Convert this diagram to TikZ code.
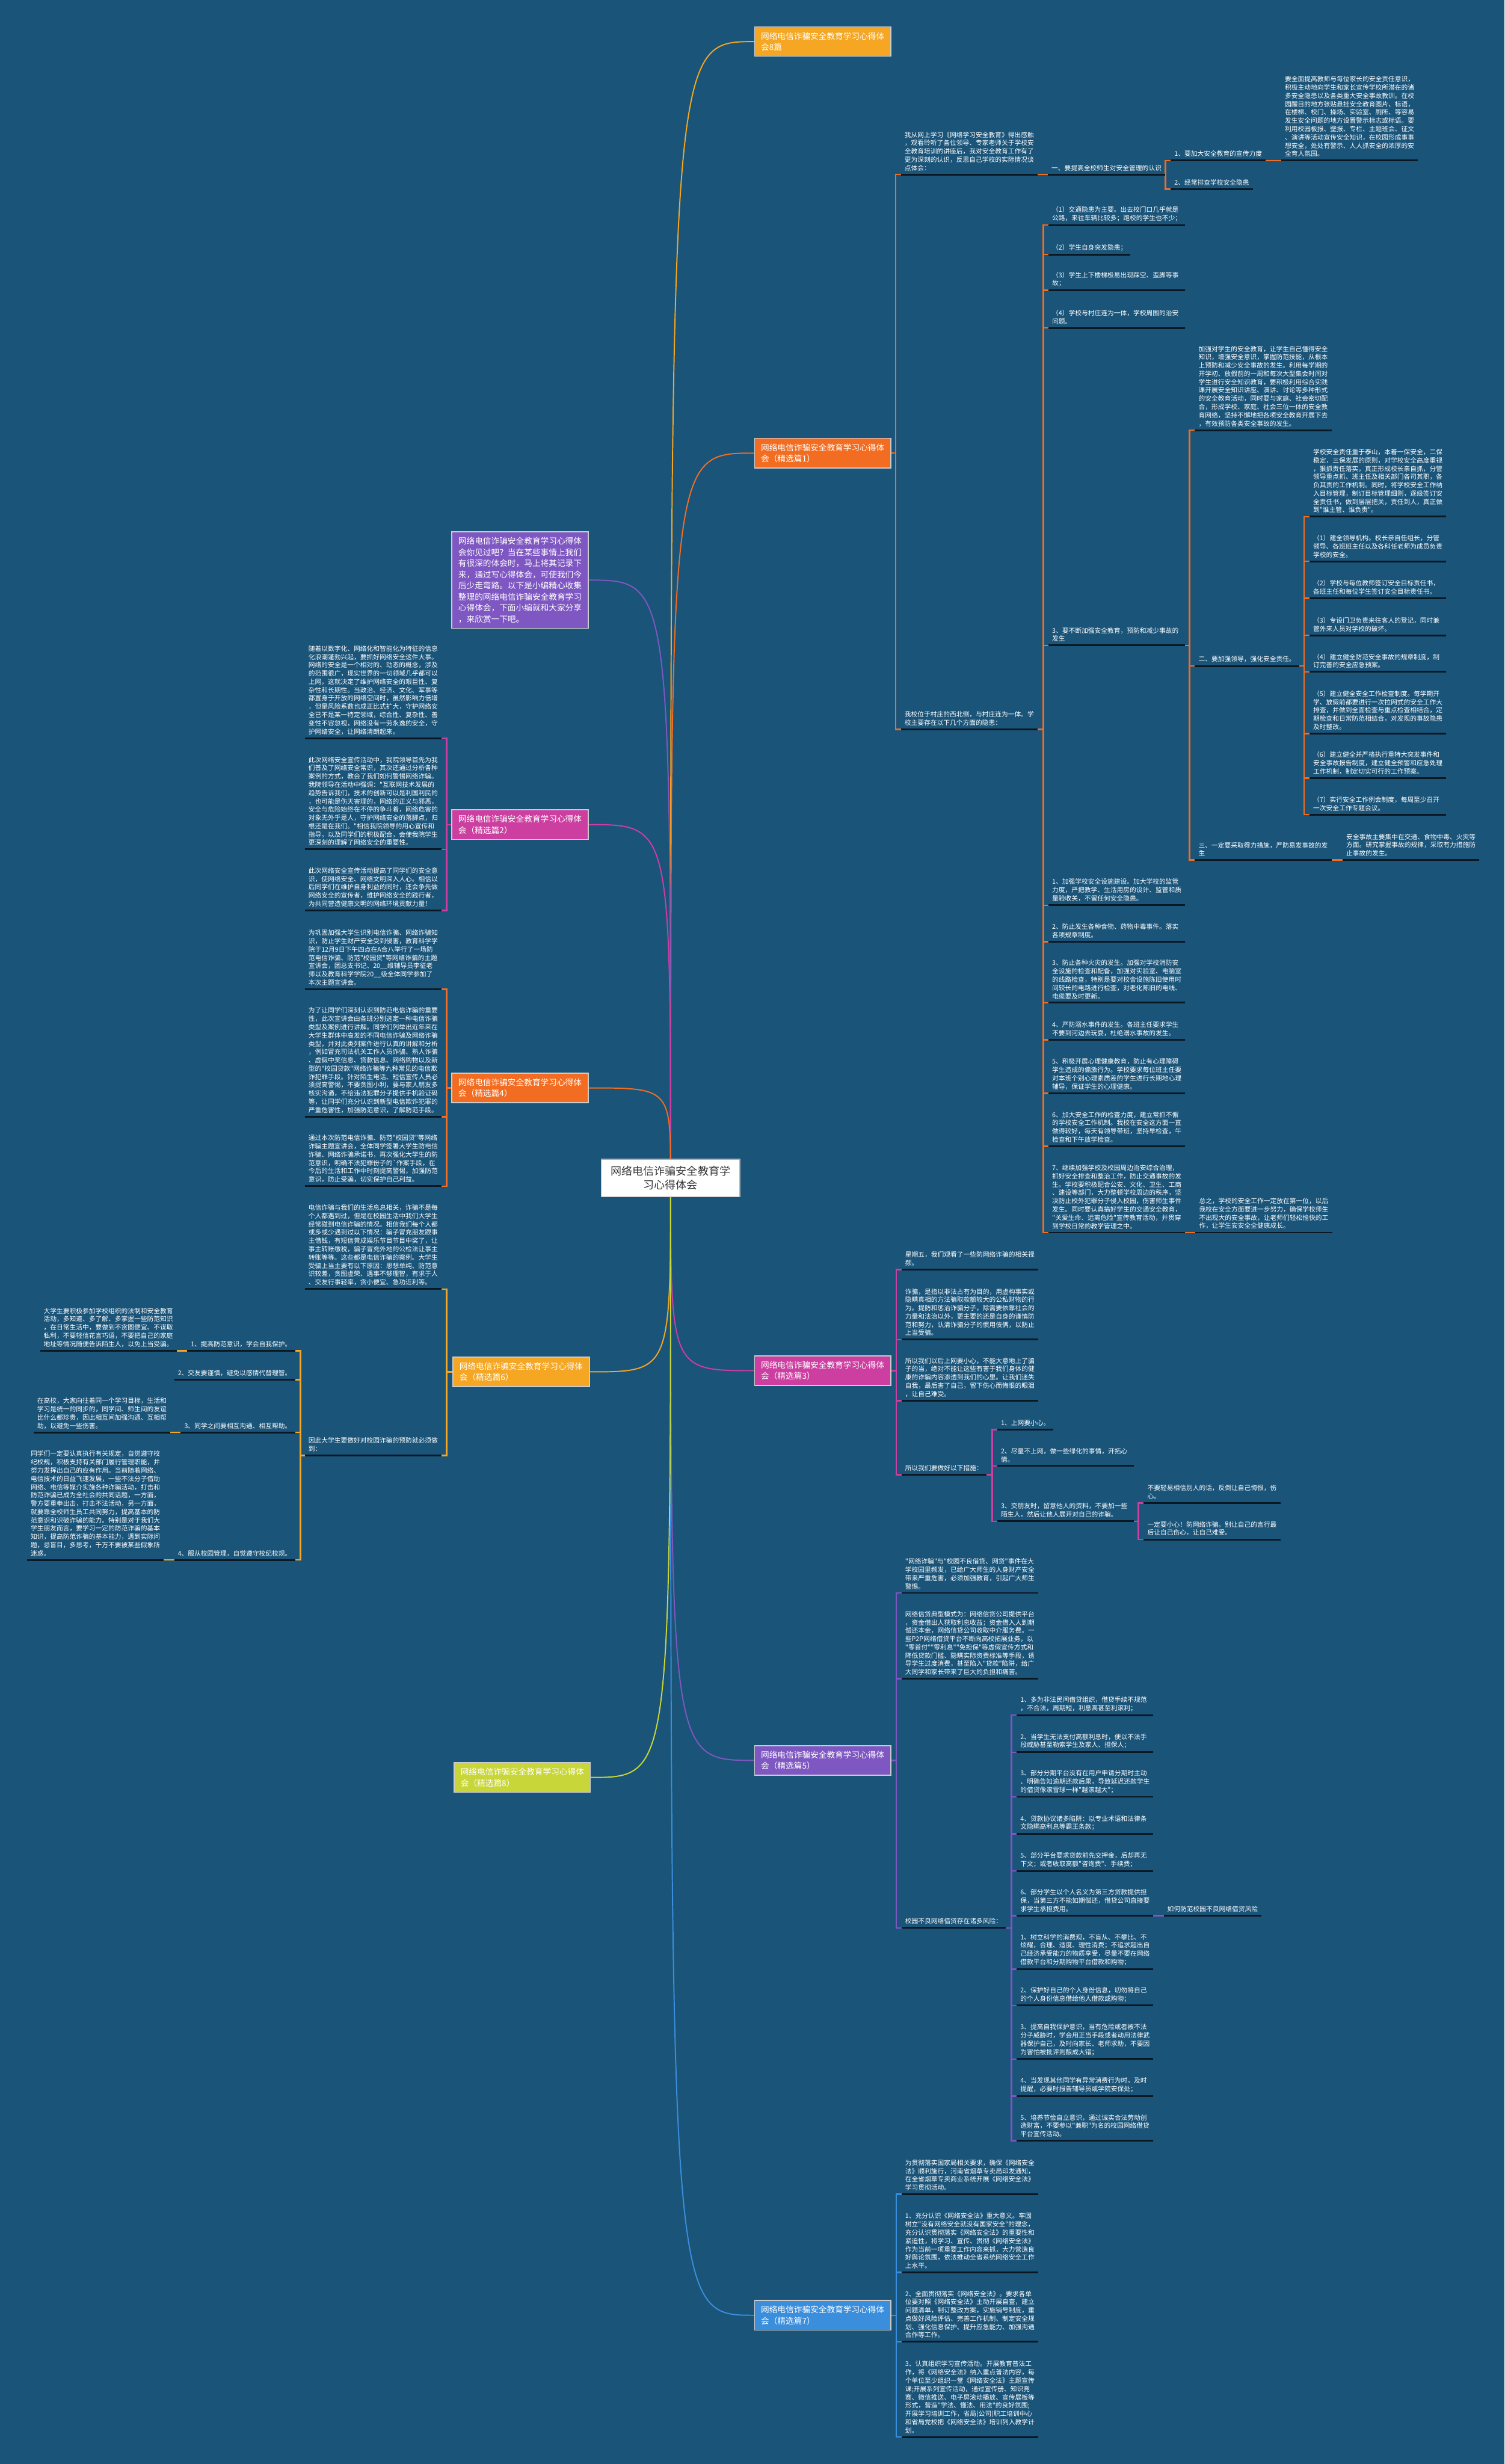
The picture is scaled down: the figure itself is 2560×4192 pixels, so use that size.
\documentclass[tikz,border=0pt]{standalone}
\usepackage{fontspec}
\setmainfont{Noto Sans CJK SC}[Ligatures=TeXOff]
\usetikzlibrary{positioning}

\definecolor{bgblue}{RGB}{26,84,121}
\definecolor{ulc}{RGB}{10,24,36}
\definecolor{amber}{RGB}{245,166,35}
\definecolor{orng}{RGB}{242,109,33}
\definecolor{mgnt}{RGB}{204,62,160}
\definecolor{prpl}{RGB}{126,87,194}
\definecolor{blu}{RGB}{59,142,219}
\definecolor{lime}{RGB}{200,214,58}

\pgfdeclarelayer{back}
\pgfdeclarelayer{wires}
\pgfsetlayers{back,wires,main}

\newcommand{\leaffont}{\fontsize{11}{14.1}\selectfont}
\newcommand{\boxfont}{\fontsize{14}{19}\selectfont}
\newcommand{\rootfont}{\fontsize{18.5}{24}\selectfont}

\tikzset{
  every picture/.style={line width=0.75pt},
  uline/.style={draw=ulc, line width=3pt},
  leaf/.style={anchor=south west, align=left, inner xsep=6pt, inner ysep=6pt, text=white, font=\leaffont,
    append after command={(\tikzlastnode.south west) edge[uline] (\tikzlastnode.south east)}},
  para/.style={leaf, text width=220pt},
  leafL/.style={leaf, anchor=south east},
  paraL/.style={para, anchor=south east},
  branch/.style={anchor=north west, align=left, text width=210pt, inner xsep=11pt, inner ysep=9pt,
    text=white, font=\boxfont, draw=white!80!black, line width=1.5pt},
  root/.style={fill=white, draw=black!30, line width=1.5pt, text=black!80, font=\rootfont, align=center,
    minimum width=236pt, minimum height=64pt},
  curve/.style={line width=2pt},
  wire/.style={line width=2.5pt},
  elbow/.style={to path={-| ([xshift=-9pt]\tikztotarget) -- (\tikztotarget)}},
  elbowL/.style={to path={-| ([xshift=9pt]\tikztotarget) -- (\tikztotarget)}},
}

\begin{document}
\begin{tikzpicture}[x=1pt,y=1pt,yscale=-1]
\begin{pgfonlayer}{back}
\fill[bgblue] (0,0) rectangle (2560,4192);
\end{pgfonlayer}
\useasboundingbox (0,0) rectangle (2560,4192);

% centre
\node[root] (ctr) at (1141,2004) {网络电信诈骗安全教育学\\习心得体会};

% right branches
\node[branch, fill=amber] (top8) at (1283,45) {网络电信诈骗安全教育学习心得体\\会8篇};
\node[branch, fill=orng] (p1) at (1283,745) {网络电信诈骗安全教育学习心得体\\会（精选篇1）};
\node[branch, fill=mgnt] (p3) at (1283,2306) {网络电信诈骗安全教育学习心得体\\会（精选篇3）};
\node[branch, fill=prpl] (p5) at (1283,2969) {网络电信诈骗安全教育学习心得体\\会（精选篇5）};
\node[branch, fill=blu] (p7) at (1283,3913) {网络电信诈骗安全教育学习心得体\\会（精选篇7）};

% left branches
\node[branch, fill=prpl] (intro) at (768,904) {网络电信诈骗安全教育学习心得体\\会你见过吧？当在某些事情上我们\\有很深的体会时，马上将其记录下\\来，通过写心得体会，可使我们今\\后少走弯路。以下是小编精心收集\\整理的网络电信诈骗安全教育学习\\心得体会，下面小编就和大家分享\\，来欣赏一下吧。};
\node[branch, fill=mgnt] (p2) at (768,1377) {网络电信诈骗安全教育学习心得体\\会（精选篇2）};
\node[branch, fill=orng] (p4) at (768,1825) {网络电信诈骗安全教育学习心得体\\会（精选篇4）};
\node[branch, fill=amber] (p6) at (770,2308) {网络电信诈骗安全教育学习心得体\\会（精选篇6）};
\node[branch, fill=lime] (p8) at (772,2998) {网络电信诈骗安全教育学习心得体\\会（精选篇8）};

% 精选篇1
\node[para] (a1) at (1533,297) {我从网上学习《网络学习安全教育》得出感触\\，观看聆听了各位领导、专家老师关于学校安\\全教育培训的讲座后，我对安全教育工作有了\\更为深刻的认识，反思自己学校的实际情况谈\\点体会：};
\node[leaf] (a11) at (1783,297) {一、要提高全校师生对安全管理的认识};
\node[leaf] (a111) at (1992,273) {1、要加大安全教育的宣传力度};
\node[leaf] (a112) at (1992,322) {2、经常排查学校安全隐患};
\node[para] (a1111) at (2180,273) {要全面提高教师与每位家长的安全责任意识，\\积极主动地向学生和家长宣传学校所潜在的诸\\多安全隐患以及各类重大安全事故教训。在校\\园醒目的地方张贴悬挂安全教育图片、标语，\\在楼梯、校门、操场、实验室、厕所、等容易\\发生安全问题的地方设置警示标志或标语。要\\利用校园板报、壁报、专栏、主题班会、征文\\、演讲等活动宣传安全知识，在校园形成事事\\想安全，处处有警示、人人抓安全的浓厚的安\\全育人氛围。};

\node[para] (a2) at (1533,1241) {我校位于村庄的西北侧，与村庄连为一体。学\\校主要存在以下几个方面的隐患：};
\node[para] (h1) at (1784,383) {（1）交通隐患为主要。出去校门口几乎就是\\公路，来往车辆比较多；跑校的学生也不少；};
\node[leaf] (h2) at (1784,433) {（2）学生自身突发隐患；};
\node[para] (h3) at (1784,494) {（3）学生上下楼梯极易出现踩空、歪脚等事\\故；};
\node[para] (h4) at (1784,558) {（4）学校与村庄连为一体，学校周围的治安\\问题。};
\node[para] (s3) at (1784,1098) {3、要不断加强安全教育，预防和减少事故的\\发生};
\node[para] (g1) at (2033,732) {加强对学生的安全教育，让学生自己懂得安全\\知识，增强安全意识，掌握防范技能，从根本\\上预防和减少安全事故的发生。利用每学期的\\开学初、放假前的一周和每次大型集会时间对\\学生进行安全知识教育，要积极利用综合实践\\课开展安全知识讲座、演讲、讨论等多种形式\\的安全教育活动，同时要与家庭、社会密切配\\合，形成学校、家庭、社会三位一体的安全教\\育网络，坚持不懈地把各项安全教育开展下去\\，有效预防各类安全事故的发生。};
\node[leaf] (g2) at (2033,1133) {二、要加强领导，强化安全责任。};
\node[para] (g3) at (2033,1463) {三、一定要采取得力措施，严防易发事故的发\\生};
\node[para] (g31) at ([xshift=19pt]g3.south east) {安全事故主要集中在交通、食物中毒、火灾等\\方面。研究掌握事故的规律，采取有力措施防\\止事故的发生。};
\node[para] (k0) at (2228,879) {学校安全责任重于泰山，本着一保安全，二保\\稳定，三保发展的原则，对学校安全高度重视\\，狠抓责任落实，真正形成校长亲自抓，分管\\领导重点抓、班主任及相关部门各司其职，各\\负其责的工作机制。同时，将学校安全工作纳\\入目标管理，制订目标管理细则，逐级签订安\\全责任书，做到层层把关，责任到人，真正做\\到"谁主管、谁负责"。};
\node[para] (k1) at (2228,955) {（1）建全领导机构。校长亲自任组长，分管\\领导、各班班主任以及各科任老师为成员负责\\学校的安全。};
\node[para] (k2) at (2228,1018) {（2）学校与每位教师签订安全目标责任书，\\各班主任和每位学生签订安全目标责任书。};
\node[para] (k3) at (2228,1081) {（3）专设门卫负责来往客人的登记，同时兼\\管外来人员对学校的破坏。};
\node[para] (k4) at (2228,1143) {（4）建立健全防范安全事故的规章制度，制\\订完善的安全应急预案。};
\node[para] (k5) at (2228,1248) {（5）建立健全安全工作检查制度。每学期开\\学、放假前都要进行一次拉网式的安全工作大\\排查，并做到全面检查与重点检查相结合，定\\期检查和日常防范相结合，对发现的事故隐患\\及时整改。};
\node[para] (k6) at (2228,1324) {（6）建立健全并严格执行重特大突发事件和\\安全事故报告制度，建立健全预警和应急处理\\工作机制，制定切实可行的工作预案。};
\node[para] (k7) at (2228,1386) {（7）实行安全工作例会制度，每周至少召开\\一次安全工作专题会议。};
\node[para] (f1) at (1784,1540) {1、加强学校安全设施建设。加大学校的监管\\力度，严把教学、生活用房的设计、监管和质\\量验收关，不留任何安全隐患。};
\node[para] (f2) at (1784,1602) {2、防止发生各种食物、药物中毒事件。落实\\各项规章制度。};
\node[para] (f3) at (1784,1706) {3、防止各种火灾的发生。加强对学校消防安\\全设施的检查和配备，加强对实验室、电脑室\\的线路检查，特别是要对校舍设施陈旧使用时\\间较长的电路进行检查，对老化陈旧的电线、\\电缆要及时更新。};
\node[para] (f4) at (1784,1769) {4、严防溺水事件的发生。各班主任要求学生\\不要到河边去玩耍，杜绝溺水事故的发生。};
\node[para] (f5) at (1784,1860) {5、积极开展心理健康教育，防止有心理障碍\\学生造成的偏激行为。学校要求每位班主任要\\对本班个别心理素质差的学生进行长期地心理\\辅导，保证学生的心理健康。};
\node[para] (f6) at (1784,1950) {6、加大安全工作的检查力度，建立常抓不懈\\的学校安全工作机制。我校在安全这方面一直\\做得较好，每天有领导带班，坚持早检查，午\\检查和下午放学检查。};
\node[para] (f7) at (1784,2097) {7、继续加强学校及校园周边治安综合治理，\\抓好安全排查和整治工作，防止交通事故的发\\生。学校要积极配合公安、文化、卫生、工商\\、建设等部门，大力整顿学校周边的秩序，坚\\决防止校外犯罪分子侵入校园，伤害师生事件\\发生。同时要认真搞好学生的交通安全教育，\\"关爱生命、远离危险"宣传教育活动，并贯穿\\到学校日常的教学管理之中。};
\node[para] (f71) at (2034,2097) {总之，学校的安全工作一定放在第一位，以后\\我校在安全方面要进一步努力，确保学校师生\\不出现大的安全事故，让老师们轻松愉快的工\\作，让学生安安全全健康成长。};

% 精选篇3
\node[para] (c1) at (1534,2160) {星期五，我们观看了一些防网络诈骗的相关视\\频。};
\node[para] (c2) at (1534,2279) {诈骗，是指以非法占有为目的，用虚构事实或\\隐瞒真相的方法骗取款额较大的公私财物的行\\为。提防和惩治诈骗分子，除需要依靠社会的\\力量和法治以外，更主要的还是自身的谨慎防\\范和努力，认清诈骗分子的惯用伎俩，以防止\\上当受骗。};
\node[para] (c3) at (1534,2383) {所以我们以后上网要小心，不能大意地上了骗\\子的当，绝对不能让这些有害于我们身体的健\\康的诈骗内容渗透到我们的心里。让我们迷失\\自我，最后害了自己，留下伤心而悔恨的眼泪\\，让自己难受。};
\node[leaf] (c4) at (1534,2509) {所以我们要做好以下措施：};
\node[leaf] (m1) at (1697,2432) {1、上网要小心。};
\node[para] (m2) at (1697,2494) {2、尽量不上网，做一些绿化的事情，开拓心\\情。};
\node[para] (m3) at (1697,2588) {3、交朋友时，留意他人的资料，不要加一些\\陌生人，然后让他人展开对自己的诈骗。};
\node[para] (n1) at (1946,2557) {不要轻易相信别人的话，反倒让自己悔恨，伤\\心。};
\node[para] (n2) at (1946,2619) {一定要小心！防网络诈骗。别让自己的言行最\\后让自己伤心，让自己难受。};

% 精选篇5
\node[para] (e1) at (1534,2710) {"网络诈骗"与"校园不良借贷、网贷"事件在大\\学校园里频发，已给广大师生的人身财产安全\\带来严重危害，必须加强教育，引起广大师生\\警惕。};
\node[para] (e2) at (1534,2856) {网络信贷典型模式为：网络信贷公司提供平台\\，资金借出人获取利息收益；资金借入人到期\\偿还本金，网络信贷公司收取中介服务费。一\\些P2P网络借贷平台不断向高校拓展业务，以\\"零首付""零利息""免担保"等虚假宣传方式和\\降低贷款门槛、隐瞒实际资费标准等手段，诱\\导学生过度消费，甚至陷入"贷款"陷阱，给广\\大同学和家长带来了巨大的负担和痛苦。};
\node[leaf] (e3) at (1534,3280) {校园不良网络借贷存在诸多风险：};
\node[para] (r1) at (1730,2918) {1、多为非法民间借贷组织，借贷手续不规范\\，不合法，周期短，利息高甚至利滚利；};
\node[para] (r2) at (1730,2981) {2、当学生无法支付高额利息时，便以不法手\\段威胁甚至勒索学生及家人、担保人；};
\node[para] (r3) at (1730,3057) {3、部分分期平台没有在用户申请分期时主动\\、明确告知逾期还款后果，导致延迟还款学生\\的借贷像滚雪球一样"越滚越大"；};
\node[para] (r4) at (1730,3120) {4、贷款协议诸多陷阱：以专业术语和法律条\\文隐瞒高利息等霸王条款；};
\node[para] (r5) at (1730,3183) {5、部分平台要求贷款前先交押金，后却再无\\下文；或者收取高额"咨询费"、手续费；};
\node[para] (r6) at (1730,3259) {6、部分学生以个人名义为第三方贷款提供担\\保，当第三方不能如期偿还，借贷公司直接要\\求学生承担费用。};
\node[leaf] (q1) at (1980,3259) {如何防范校园不良网络借贷风险};
\node[para] (t1) at (1730,3350) {1、树立科学的消费观，不盲从、不攀比、不\\炫耀，合理、适度、理性消费；不追求超出自\\己经济承受能力的物质享受，尽量不要在网络\\借款平台和分期购物平台借款和购物；};
\node[para] (t2) at (1730,3412) {2、保护好自己的个人身份信息，切勿将自己\\的个人身份信息借给他人借款或购物；};
\node[para] (t3) at (1730,3503) {3、提高自我保护意识，当有危险或者被不法\\分子威胁时，学会用正当手段或者动用法律武\\器保护自己，及时向家长、老师求助，不要因\\为害怕被批评则酿成大错；};
\node[para] (t4) at (1730,3566) {4、当发现其他同学有异常消费行为时，及时\\提醒，必要时报告辅导员或学院安保处；};
\node[para] (t5) at (1730,3642) {5、培养节俭自立意识，通过诚实合法劳动创\\造财富，不要参以"兼职"为名的校园网络借贷\\平台宣传活动。};

% 精选篇7
\node[para] (w1) at (1534,3733) {为贯彻落实国家局相关要求，确保《网络安全\\法》顺利施行，河南省烟草专卖局印发通知，\\在全省烟草专卖商业系统开展《网络安全法》\\学习贯彻活动。};
\node[para] (w2) at (1534,3866) {1、充分认识《网络安全法》重大意义。牢固\\树立"没有网络安全就没有国家安全"的理念，\\充分认识贯彻落实《网络安全法》的重要性和\\紧迫性，将学习、宣传、贯彻《网络安全法》\\作为当前一项重要工作内容来抓，大力营造良\\好舆论氛围，依法推动全省系统网络安全工作\\上水平。};
\node[para] (w3) at (1534,3984) {2、全面贯彻落实《网络安全法》。要求各单\\位要对照《网络安全法》主动开展自查，建立\\问题清单，制订整改方案，实施销号制度，重\\点做好风险评估、完善工作机制、制定安全规\\划、强化信息保护、提升应急能力、加强沟通\\合作等工作。};
\node[para] (w4) at (1534,4146) {3、认真组织学习宣传活动。开展教育普法工\\作，将《网络安全法》纳入重点普法内容，每\\个单位至少组织一堂《网络安全法》主题宣传\\课;开展系列宣传活动，通过宣传册、知识竞\\赛、微信推送、电子屏滚动播放、宣传展板等\\形式，营造"学法、懂法、用法"的良好氛围;\\开展学习培训工作，省局(公司)职工培训中心\\和省局党校把《网络安全法》培训列入教学计\\划。};

% 精选篇2
\node[paraL] (l1) at (751,1256) {随着以数字化、网络化和智能化为特征的信息\\化浪潮蓬勃兴起，要抓好网络安全这件大事。\\网络的安全是一个相对的、动态的概念，涉及\\的范围很广，现实世界的一切领域几乎都可以\\上网，这就决定了维护网络安全的艰巨性、复\\杂性和长期性。当政治、经济、文化、军事等\\都置身于开放的网络空间时，虽然影响力倍增\\，但是风险系数也成正比式扩大，守护网络安\\全已不是某一特定领域，综合性、复杂性、善\\变性不容忽视，网络没有一劳永逸的安全，守\\护网络安全，让网络清朗起来。};
\node[paraL] (l2) at (751,1445) {此次网络安全宣传活动中，我院领导首先为我\\们普及了网络安全常识，其次还通过分析各种\\案例的方式，教会了我们如何警惕网络诈骗。\\我院领导在活动中强调："互联网技术发展的\\趋势告诉我们，技术的创新可以是利国利民的\\，也可能是伤天害理的，网络的正义与邪恶，\\安全与危险始终在不停的争斗着，网络危害的\\对象无外乎是人，守护网络安全的落脚点，归\\根还是在我们。"相信我院领导的用心宣传和\\指导，以及同学们的积极配合，会使我院学生\\更深刻的理解了网络安全的重要性。};
\node[paraL] (l3) at (751,1549) {此次网络安全宣传活动提高了同学们的安全意\\识，使网络安全、网络文明深入人心。相信以\\后同学们在维护自身利益的同时，还会争先做\\网络安全的宣传者，维护网络安全的践行者，\\为共同营造健康文明的网络环境贡献力量！};

% 精选篇4
\node[paraL] (l4) at (751,1683) {为巩固加强大学生识别电信诈骗、网络诈骗知\\识，防止学生财产安全受到侵害，教育科学学\\院于12月9日下午四点在A合八举行了一场防\\范电信诈骗、防范"校园贷"等网络诈骗的主题\\宣讲会，团总支书记、20\_\_级辅导员李征老\\师以及教育科学学院20\_\_级全体同学参加了\\本次主题宣讲会。};
\node[paraL] (l5) at (751,1900) {为了让同学们深刻认识到防范电信诈骗的重要\\性，此次宣讲会由各班分别选定一种电信诈骗\\类型及案例进行讲解。同学们列举出近年来在\\大学生群体中高发的不同电信诈骗及网络诈骗\\类型，并对此类列案件进行认真的讲解和分析\\，例如冒充司法机关工作人员诈骗、熟人诈骗\\、虚假中奖信息、贷款信息、网络购物以及新\\型的"校园贷款"网络诈骗等九种常见的电信欺\\诈犯罪手段。针对陌生电话、短信宣传人员必\\须提高警惕，不要贪图小利，要与家人朋友多\\核实沟通，不给违法犯罪分子提供手机验证码\\等，让同学们充分认识到新型电信欺诈犯罪的\\严重危害性，加强防范意识，了解防范手段。};
\node[paraL] (l6) at (751,2018) {通过本次防范电信诈骗、防范"校园贷"等网络\\诈骗主题宣讲会，全体同学签署大学生防电信\\诈骗、网络诈骗承诺书，再次强化大学生的防\\范意识，明确不法犯罪份子的`作案手段，在\\今后的生活和工作中时刻提高警惕，加强防范\\意识，防止受骗，切实保护自己利益。};

% 精选篇6
\node[paraL] (l7) at (751,2193) {电信诈骗与我们的生活息息相关，诈骗不是每\\个人都遇到过，但是在校园生活中我们大学生\\经常碰到电信诈骗的情况。相信我们每个人都\\或多或少遇到过以下情况：骗子冒充朋友跟事\\主借钱，有短信黄成娱乐节目节目中奖了，让\\事主转账缴税，骗子冒充外地的公检法让事主\\转账等等。这些都是电信诈骗的案例。大学生\\受骗上当主要有以下原因：思想单纯、防范意\\识较差，贪图虚荣、遇事不够理智，有求于人\\、交友行事轻率，贪小便宜、急功近利等。};
\node[paraL] (l8) at (751,2476) {因此大学生要做好对校园诈骗的预防就必须做\\到：};
\node[leafL] (d1) at (502,2298) {1、提高防范意识，学会自我保护。};
\node[leafL] (d2) at (502,2347) {2、交友要谨慎，避免以感情代替理智。};
\node[leafL] (d3) at (502,2437) {3、同学之间要相互沟通、相互帮助。};
\node[leafL] (d4) at (502,2654) {4、服从校园管理，自觉遵守校纪校规。};
\node[paraL] (d11) at ([xshift=-18pt]d1.south west) {大学生要积极参加学校组织的法制和安全教育\\活动，多知道、多了解、多掌握一些防范知识\\，在日常生活中，要做到不贪图便宜、不谋取\\私利，不要轻信花言巧语，不要把自己的家庭\\地址等情况随便告诉陌生人，以免上当受骗。};
\node[paraL] (d31) at ([xshift=-18pt]d3.south west) {在高校，大家向往着同一个学习目标，生活和\\学习是统一的同步的，同学间、师生间的友谊\\比什么都珍贵，因此相互间加强沟通、互相帮\\助，以避免一些伤害。};
\node[paraL] (d41) at ([xshift=-18pt]d4.south west) {同学们一定要认真执行有关规定，自觉遵守校\\纪校规，积极支持有关部门履行管理职能，并\\努力发挥出自己的应有作用。当前随着网络、\\电信技术的日益飞速发展，一些不法分子借助\\网络、电信等媒介实施各种诈骗活动，打击和\\防范诈骗已成为全社会的共同话题，一方面，\\警方要重拳出击，打击不法活动，另一方面，\\就要靠全校师生员工共同努力，提高基本的防\\范意识和识破诈骗的能力。特别是对于我们大\\学生朋友而言，要学习一定的防范诈骗的基本\\知识，提高防范诈骗的基本能力，遇到实际问\\题，忌盲目，多思考，千万不要被某些假象所\\迷惑。};

\begin{pgfonlayer}{wires}
% centre to branches
\draw[curve, amber] (ctr.center) .. controls (ctr.center |- top8.west) .. (top8.west);
\draw[curve, orng] (ctr.center) .. controls (ctr.center |- p1.west) .. (p1.west);
\draw[curve, mgnt] (ctr.center) .. controls (ctr.center |- p3.west) .. (p3.west);
\draw[curve, prpl] (ctr.center) .. controls (ctr.center |- p5.west) .. (p5.west);
\draw[curve, blu] (ctr.center) .. controls (ctr.center |- p7.west) .. (p7.west);
\draw[curve, prpl] (ctr.center) .. controls (ctr.center |- intro.east) .. (intro.east);
\draw[curve, mgnt] (ctr.center) .. controls (ctr.center |- p2.east) .. (p2.east);
\draw[curve, orng] (ctr.center) .. controls (ctr.center |- p4.east) .. (p4.east);
\draw[curve, amber] (ctr.center) .. controls (ctr.center |- p6.east) .. (p6.east);
\draw[curve, lime] (ctr.center) .. controls (ctr.center |- p8.east) .. (p8.east);

% 精选篇1
\foreach \n in {a1,a2} \draw[wire, orng] (p1.east) to[elbow] (\n.south west);
\draw[wire, orng] (a1.south east) to[elbow] (a11.south west);
\foreach \n in {a111,a112} \draw[wire, orng] (a11.south east) to[elbow] (\n.south west);
\draw[wire, orng] (a111.south east) to[elbow] (a1111.south west);
\foreach \n in {h1,h2,h3,h4,s3,f1,f2,f3,f4,f5,f6,f7} \draw[wire, orng] (a2.south east) to[elbow] (\n.south west);
\foreach \n in {g1,g2,g3} \draw[wire, orng] (s3.south east) to[elbow] (\n.south west);
\foreach \n in {k0,k1,k2,k3,k4,k5,k6,k7} \draw[wire, orng] (g2.south east) to[elbow] (\n.south west);
\draw[wire, orng] (g3.south east) to[elbow] (g31.south west);
\draw[wire, orng] (f7.south east) to[elbow] (f71.south west);

% 精选篇3
\foreach \n in {c1,c2,c3,c4} \draw[wire, mgnt] (p3.east) to[elbow] (\n.south west);
\foreach \n in {m1,m2,m3} \draw[wire, mgnt] (c4.south east) to[elbow] (\n.south west);
\foreach \n in {n1,n2} \draw[wire, mgnt] (m3.south east) to[elbow] (\n.south west);

% 精选篇5
\foreach \n in {e1,e2,e3} \draw[wire, prpl] (p5.east) to[elbow] (\n.south west);
\foreach \n in {r1,r2,r3,r4,r5,r6,t1,t2,t3,t4,t5} \draw[wire, prpl] (e3.south east) to[elbow] (\n.south west);
\draw[wire, prpl] (r6.south east) to[elbow] (q1.south west);

% 精选篇7
\foreach \n in {w1,w2,w3,w4} \draw[wire, blu] (p7.east) to[elbow] (\n.south west);

% left side
\foreach \n in {l1,l2,l3} \draw[wire, mgnt] (p2.west) to[elbowL] (\n.south east);
\foreach \n in {l4,l5,l6} \draw[wire, orng] (p4.west) to[elbowL] (\n.south east);
\foreach \n in {l7,l8} \draw[wire, amber] (p6.west) to[elbowL] (\n.south east);
\foreach \n in {d1,d2,d3,d4} \draw[wire, amber] (l8.south west) to[elbowL] (\n.south east);
\draw[wire, amber] (d1.south west) to[elbowL] (d11.south east);
\draw[wire, amber] (d3.south west) to[elbowL] (d31.south east);
\draw[wire, amber] (d4.south west) to[elbowL] (d41.south east);
\end{pgfonlayer}
\end{tikzpicture}
\end{document}
